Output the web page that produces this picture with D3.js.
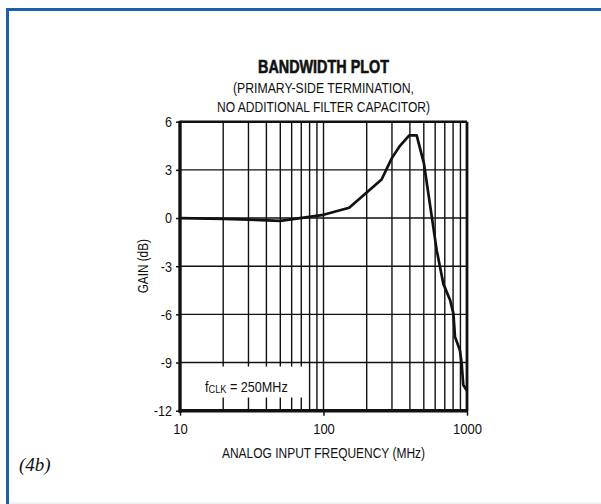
<!DOCTYPE html>
<html><head><meta charset="utf-8">
<script src="https://cdn.jsdelivr.net/npm/d3@7"></script>
<style>
html,body{margin:0;padding:0;background:#fff;}
text{font-family:"Liberation Sans Narrow","Arial Narrow","Liberation Sans",Arial,sans-serif;fill:#111;}
</style></head>
<body><svg id="c" width="601" height="504"></svg>
<script>
const title = "BANDWIDTH PLOT";
const subtitle = ["(PRIMARY-SIDE TERMINATION,", "NO ADDITIONAL FILTER CAPACITOR)"];
const xLabel = "ANALOG INPUT FREQUENCY (MHz)";
const yLabel = "GAIN (dB)";
const figLabel = "(4b)";
const xTicks = [10, 100, 1000];
const yTicks = [-12, -9, -6, -3, 0, 3, 6];
const freq = [10, 20, 30, 50, 100, 151, 254, 298, 341, 396, 446, 501, 615, 684, 762, 804, 825, 893, 918, 942, 1000];
const gain = [0, -0.05, -0.1, -0.18, 0.2, 0.64, 2.4, 3.7, 4.5, 5.15, 5.15, 3.4, -2.0, -4.1, -5.1, -5.95, -7.4, -8.24, -9.07, -10.4, -10.75];

const svg = d3.select("#c");
svg.append("rect").attr("width",601).attr("height",504).attr("fill","#fff");
svg.append("line").attr("x1",6).attr("x2",601).attr("y1",9.5).attr("y2",9.5).attr("stroke","#1a5fac").attr("stroke-width",3);
svg.append("line").attr("x1",7.5).attr("x2",7.5).attr("y1",8).attr("y2",504).attr("stroke","#1a5fac").attr("stroke-width",3);
svg.append("line").attr("x1",9).attr("x2",601).attr("y1",503).attr("y2",503).attr("stroke","#e4e6ea").attr("stroke-width",1);

function condense(sel, ratio, fixed){
  sel.each(function(){
    const w = fixed || this.getComputedTextLength()*ratio;
    d3.select(this).attr("textLength", w).attr("lengthAdjust","spacingAndGlyphs");
  });
}

const L=180, R=467, T=121.7, B=410.7;
const x = d3.scaleLog().domain([10,1000]).range([L,R]);
const y = d3.scaleLinear().domain([-12,6]).range([B,T]);

const g = svg.append("g");
const minor = [];
for (const dec of [10,100]) for (let k=2;k<=9;k++) minor.push(dec*k);
g.selectAll(".vg").data(minor.concat([100])).enter().append("line")
  .attr("x1",d=>x(d)).attr("x2",d=>x(d)).attr("y1",T).attr("y2",B)
  .attr("stroke","#111").attr("stroke-width",1.4);
g.selectAll(".hg").data(yTicks.filter(d=>d>-12&&d<6)).enter().append("line")
  .attr("x1",L).attr("x2",R).attr("y1",d=>y(d)).attr("y2",d=>y(d))
  .attr("stroke","#111").attr("stroke-width",1.4);

// fCLK label box
g.append("rect").attr("x",x(10)+3).attr("y",y(-9)+4).attr("width",x(75)-x(10)-3).attr("height",31).attr("fill","#fff");
const ft = g.append("text").attr("transform","translate(205,391.5) scale(0.84,1)").attr("font-size",15);
ft.append("tspan").text("f");
ft.append("tspan").attr("font-size",11).attr("dy",1.8).text("CLK");
ft.append("tspan").attr("dy",-1.8).text(" = 250MHz");

g.append("line").attr("x1",L).attr("x2",R).attr("y1",T).attr("y2",T).attr("stroke","#111").attr("stroke-width",2.6);
g.append("line").attr("x1",R).attr("x2",R).attr("y1",T).attr("y2",B).attr("stroke","#111").attr("stroke-width",2.8);
g.append("line").attr("x1",L).attr("x2",L).attr("y1",T-1).attr("y2",B+2).attr("stroke","#111").attr("stroke-width",3.4);
g.append("line").attr("x1",L-1).attr("x2",R+1).attr("y1",B).attr("y2",B).attr("stroke","#111").attr("stroke-width",3.6);

const fmt = d => String(d);
const yAxis = d3.axisLeft(y).tickValues(yTicks).tickSize(4).tickPadding(4).tickFormat(fmt);
const ya = g.append("g").attr("transform",`translate(${L},0)`).call(yAxis);
ya.select(".domain").remove();
ya.selectAll("line").attr("stroke","#111").attr("stroke-width",1.5);
ya.selectAll("text").attr("font-size",15).attr("font-family",null).attr("fill","#111");
condense(ya.selectAll("text"), 0.84);

const xAxis = d3.axisBottom(x).tickValues(xTicks).tickSize(5).tickPadding(7).tickFormat(fmt);
const xa = g.append("g").attr("transform",`translate(0,${B})`).call(xAxis);
xa.select(".domain").remove();
xa.selectAll("line").attr("stroke","#111").attr("stroke-width",1.5);
xa.selectAll("text").attr("font-size",15.5).attr("font-family",null).attr("fill","#111");
condense(xa.selectAll("text"), 0.84);

const data = freq.map((f,i)=>({f, g:gain[i]}));
g.append("path").datum(data).attr("fill","none").attr("stroke","#111").attr("stroke-width",2.7)
  .attr("stroke-linejoin","round")
  .attr("d", d3.line().x(d=>x(d.f)).y(d=>y(d.g)));

const cx = (L+R)/2;
const tt = svg.append("text").attr("x",cx).attr("y",73).attr("text-anchor","middle").attr("font-size",18).attr("font-weight","bold").attr("stroke","#111").attr("stroke-width",0.6).text(title);
condense(tt, 0, 131);
const subW = [181, 213];
svg.selectAll(".sub").data(subtitle).enter().append("text").attr("x",cx).attr("y",(d,i)=>92.5+i*19)
  .attr("text-anchor","middle").attr("font-size",15).text(d=>d)
  .each(function(d,i){ d3.select(this).attr("textLength",subW[i]).attr("lengthAdjust","spacingAndGlyphs"); });
const xt = svg.append("text").attr("x",cx).attr("y",458).attr("text-anchor","middle").attr("font-size",15).text(xLabel);
condense(xt, 0, 203);
const yt = svg.append("text").attr("transform",`translate(148,${(T+B)/2}) rotate(-90)`).attr("text-anchor","middle").attr("font-size",14).text(yLabel);
condense(yt, 0.84);
svg.append("text").attr("x",19).attr("y",471).attr("font-size",19).attr("font-style","italic")
  .style("font-family","'Liberation Serif','Times New Roman',serif").text(figLabel);
</script></body></html>
